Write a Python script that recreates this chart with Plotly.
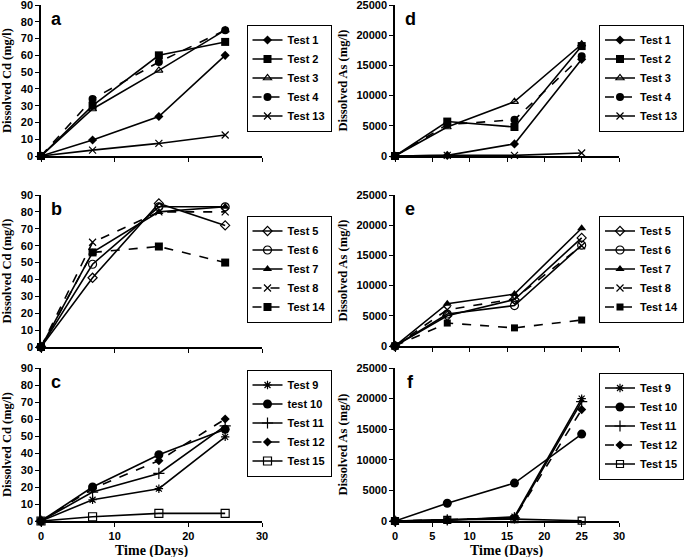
import plotly.graph_objects as go

days = [0, 7, 16, 25]

# Panel a: dissolved Cd
cd_t1 = [0, 9.5, 23.5, 60]
cd_t2 = [0, 30, 60, 68]
cd_t3 = [0, 28, 51, 75]
cd_t4 = [0, 34, 56, 75]
cd_t13 = [0, 3.5, 7.5, 12.5]
# Panel b: dissolved Cd
cd_t5 = [0, 41, 85, 72]
cd_t6 = [0, 49, 83, 83]
cd_t7 = [0, 56, 80, 83]
cd_t8 = [0, 62, 80, 80]
cd_t14 = [0, 56, 59.5, 50]
# Panel c: dissolved Cd
cd_t9 = [0, 12.5, 19, 49.5]
cd_t10 = [0, 20, 39, 54]
cd_t11 = [0, 17, 28, 56]
cd_t12 = [0, 19, 35.5, 60]
cd_t15 = [0, 2.5, 4.5, 4.5]
# Panel d: dissolved As
as_t1 = [0, 100, 2000, 16000]
as_t2 = [0, 5700, 4800, 18200]
as_t3 = [0, 4800, 9000, 18500]
as_t4 = [0, 5200, 6000, 16500]
as_t13 = [0, 100, 100, 500]
# Panel e: dissolved As
as_t5 = [0, 5000, 7700, 17900]
as_t6 = [0, 5300, 6700, 16700]
as_t7 = [0, 7000, 8600, 19500]
as_t8 = [0, 6000, 7800, 16600]
as_t14 = [0, 3800, 3000, 4300]
# Panel f: dissolved As
as_t9 = [0, 100, 700, 20000]
as_t10 = [0, 2900, 6200, 14200]
as_t11 = [0, 200, 500, 19500]
as_t12 = [0, 200, 500, 18200]
as_t15 = [0, 200, 300, 50]

W, H = 685, 557

panels = [
    ("a", "x", "y", "legend", (41, 262), (5, 156), [
        ("Test 1", cd_t1, "diamond", "solid", 7),
        ("Test 2", cd_t2, "square", "solid", 8),
        ("Test 3", cd_t3, "triangle-up-open", "solid", 7),
        ("Test 4", cd_t4, "circle", "dash", 8),
        ("Test 13", cd_t13, "x-thin-open", "solid", 7),
    ], (289, 78, "center")),
    ("b", "x2", "y2", "legend2", (41, 262), (195, 347), [
        ("Test 5", cd_t5, "diamond-open", "solid", 7),
        ("Test 6", cd_t6, "circle-open", "solid", 8),
        ("Test 7", cd_t7, "triangle-up", "solid", 8),
        ("Test 8", cd_t8, "x-thin-open", "dash", 7),
        ("Test 14", cd_t14, "square", "dash", 8),
    ], (289, 269, "center")),
    ("c", "x3", "y3", "legend3", (41, 262), (368, 521), [
        ("Test 9", cd_t9, "asterisk-open", "solid", 7),
        ("test 10", cd_t10, "circle", "solid", 9),
        ("Test 11", cd_t11, "cross-thin-open", "solid", 8),
        ("Test 12", cd_t12, "diamond", "dash", 7),
        ("Test 15", cd_t15, "square-open", "solid", 8),
    ], (289, 423, "center")),
    ("d", "x4", "y4", "legend4", (395, 619), (5, 156), [
        ("Test 1", as_t1, "diamond", "solid", 7),
        ("Test 2", as_t2, "square", "solid", 8),
        ("Test 3", as_t3, "triangle-up-open", "solid", 7),
        ("Test 4", as_t4, "circle", "dash", 8),
        ("Test 13", as_t13, "x-thin-open", "solid", 7),
    ], (684, 78, "right")),
    ("e", "x5", "y5", "legend5", (395, 619), (195, 346), [
        ("Test 5", as_t5, "diamond-open", "solid", 7),
        ("Test 6", as_t6, "circle-open", "solid", 8),
        ("Test 7", as_t7, "triangle-up", "solid", 8),
        ("Test 8", as_t8, "x-thin-open", "dash", 7),
        ("Test 14", as_t14, "square", "dash", 7),
    ], (684, 269, "right")),
    ("f", "x6", "y6", "legend6", (395, 619), (368, 521), [
        ("Test 9", as_t9, "asterisk-open", "solid", 7),
        ("Test 10", as_t10, "circle", "solid", 9),
        ("Test 11", as_t11, "cross-thin-open", "solid", 8),
        ("Test 12", as_t12, "diamond", "dash", 7),
        ("Test 15", as_t15, "square-open", "solid", 7),
    ], (684, 426, "right")),
]

fig = go.Figure()
layout = dict(
    width=W, height=H,
    margin=dict(l=0, r=0, t=0, b=0),
    paper_bgcolor="white", plot_bgcolor="white",
    showlegend=True,
    annotations=[],
)

tick_font = dict(family="Liberation Sans, Arial", size=11, color="black", weight="bold")
title_font = dict(family="Liberation Serif, Times New Roman", size=12.5, color="black", weight="bold")

for letter, xa, ya, lg, (x0, x1), (y0, y1), series, (lx, ly, lanchor) in panels:
    for name, vals, sym, dash, msize in series:
        thin = sym.endswith("-open") or "thin" in sym
        fig.add_trace(go.Scatter(
            x=days, y=vals, name=name, mode="lines+markers",
            xaxis=xa, yaxis=ya, legend=lg,
            line=dict(color="black", width=1.6, dash=dash),
            marker=dict(symbol=sym, size=msize, color="black",
                        line=dict(color="black", width=1.2 if thin else 0)),
            cliponaxis=False,
        ))
    is_cd = letter in "abc"
    bottom = letter in "cf"
    xkey = "xaxis" + xa[1:]
    ykey = "yaxis" + ya[1:]
    layout[xkey] = dict(
        domain=[x0 / W, x1 / W], anchor=ya, range=[0, 30],
        dtick=10 if is_cd else 5,
        showline=True, linecolor="black", linewidth=1.5,
        ticks="outside", ticklen=4, tickcolor="black", tickwidth=1,
        showgrid=False, zeroline=False, automargin=False,
        showticklabels=bottom, tickfont=tick_font, ticklabeloverflow="allow",
    )
    layout[ykey] = dict(
        domain=[1 - y1 / H, 1 - y0 / H], anchor=xa,
        range=[0, 90] if is_cd else [0, 25000],
        dtick=10 if is_cd else 5000, tickformat="d",
        showline=True, linecolor="black", linewidth=1.5,
        ticks="outside", ticklen=4, tickcolor="black", tickwidth=1,
        showgrid=False, zeroline=False, automargin=False, tickfont=tick_font,
        ticklabeloverflow="allow",
        title=dict(text="Dissolved Cd (mg/l)" if is_cd else "Dissolved As (mg/l)",
                   font=title_font, standoff=6),
    )
    layout[lg] = dict(
        x=lx / W, y=1 - ly / H, xanchor=lanchor, yanchor="middle",
        bordercolor="black", borderwidth=1, bgcolor="white",
        font=dict(family="Liberation Sans, Arial", size=11, color="black", weight="bold"),
        tracegroupgap=0, itemwidth=30,
    )
    layout["annotations"].append(dict(
        text=letter, xref="paper", yref="paper",
        x=(x0 + 15) / W, y=1 - (y0 + 14) / H, xanchor="center", yanchor="middle",
        showarrow=False, font=dict(family="Liberation Sans, Arial", size=18, color="black", weight="bold"),
    ))
    if bottom:
        layout["annotations"].append(dict(
            text="Time (Days)", xref="paper", yref="paper",
            x=(x0 + x1) / 2 / W, y=1 - 551 / H, xanchor="center", yanchor="middle",
            showarrow=False, font=dict(title_font, size=14),
        ))

fig.update_layout(**layout)
fig.write_html("out.html", post_script="document.body.style.margin='0';",
               config={"displayModeBar": False})
